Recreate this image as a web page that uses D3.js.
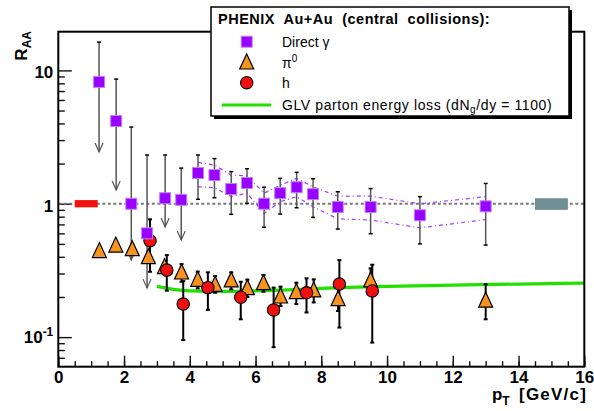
<!DOCTYPE html>
<html><head><meta charset="utf-8">
<script src="https://cdn.jsdelivr.net/npm/d3@7"></script>
<style>
body{margin:0;background:#fff}
svg{display:block;font-family:"Liberation Sans",Arial,Helvetica,sans-serif}
</style>
</head><body>
<svg id="c" width="594" height="411"></svg>
<script>
// ---- data ----
const gammaPt  = [1.24,1.76,2.22,2.70,3.25,3.74,4.25,4.75,5.26,5.74,6.26,6.75,7.25,7.75,8.50,9.50,11.0,13.0];
const gammaVal = [8.2,4.17,1.0,0.60,1.10,1.07,1.70,1.64,1.29,1.43,1.0,1.20,1.33,1.18,0.945,0.945,0.82,0.956];
const gammaHi  = [16.3,8.6,3.76,2.32,2.32,1.85,2.32,2.18,1.74,1.83,1.33,1.55,1.72,1.54,1.23,1.30,1.13,1.42];
const gammaLo  = [2.44,1.27,0.378,0.233,0.669,0.534,1.08,1.11,0.833,1.007,0.666,0.837,0.933,0.79,0.646,0.596,0.50,0.49];
const gammaIsLimit = [true,true,true,true,true,true,false,false,false,false,false,false,false,false,false,false,false,false];
const bandPt = [4.25,4.75,5.26,5.74,6.26,6.75,7.25,7.75,8.50,9.50,11.0,13.0];
const bandUp = [2.04,1.95,1.64,1.62,1.20,1.38,1.55,1.34,1.14,1.14,1.0,1.13];
const bandLo = [1.34,1.32,1.13,1.20,0.847,1.035,1.13,0.95,0.77,0.755,0.66,0.76];

const piPt  = [1.25,1.75,2.25,2.74,3.23,3.75,4.24,4.77,5.26,5.75,6.24,6.76,7.24,7.77,8.51,9.50,13.0];
const piVal = [0.44,0.484,0.455,0.396,0.334,0.304,0.268,0.246,0.265,0.232,0.253,0.201,0.217,0.223,0.192,0.265,0.187];
const piHi  = [0.46,0.51,0.49,0.43,0.36,0.353,0.31,0.287,0.306,0.27,0.292,0.239,0.256,0.271,0.23,0.328,0.249];
const piLo  = [0.42,0.46,0.42,0.36,0.30,0.26,0.232,0.215,0.228,0.20,0.219,0.171,0.177,0.182,0.157,0.21,0.136];

const hPt  = [2.79,3.30,3.80,4.55,5.55,6.55,7.55,8.55,9.55];
const hVal = [0.528,0.318,0.177,0.235,0.199,0.16,0.215,0.25,0.222];
const hHi  = [0.764,0.412,0.263,0.306,0.26,0.235,0.276,0.378,0.349];
const hLo  = [0.309,0.223,0.095,0.16,0.136,0.084,0.153,0.118,0.091];

const glvPt  = [3.0,3.5,4.0,5.0,6.0,7.0,8.0,10.0,12.0,14.0,16.0];
const glvVal = [0.24,0.228,0.222,0.22,0.222,0.226,0.232,0.24,0.245,0.25,0.254];

const normRed  = {x0:0.5, x1:1.2, lo:0.94, hi:1.065};
const normGrey = {x0:14.5, x1:15.5, lo:0.9, hi:1.1};

const xMajor = [0,2,4,6,8,10,12,14,16];
const yMajor = [0.1,1,10];
const yMinor = [0.07,0.08,0.09,0.2,0.3,0.4,0.5,0.6,0.7,0.8,0.9,2,3,4,5,6,7,8,9];

const NB = "\u00a0";
const legendTitle = `PHENIX${NB} Au+Au${NB} (central${NB} collisions):`;
const legendLabels = ["Direct \u03b3","\u03c0","h","GLV parton energy loss (dN"];

// ---- drawing ----
const svg = d3.select("#c");
svg.append("rect").attr("width",594).attr("height",411).attr("fill","#fff");
const x = d3.scaleLinear().domain([0,16]).range([58.3,584.3]);
const y = d3.scaleLog().domain([0.06,19.5]).range([366.7,31.7]);
const [X0,X1] = x.range(), [Y0,Y1] = y.range();

// axes ticks
const gxMin = svg.append("g").attr("transform",`translate(0,${Y0})`)
  .call(d3.axisBottom(x).tickValues(d3.range(0,16.01,0.5)).tickSize(-5.5).tickFormat(""));
const gxMaj = svg.append("g").attr("transform",`translate(0,${Y0})`)
  .call(d3.axisBottom(x).tickValues(xMajor).tickSize(-11).tickPadding(4).tickFormat(d3.format("d")));
const gyMin = svg.append("g").attr("transform",`translate(${X0},0)`)
  .call(d3.axisLeft(y).tickValues(yMinor).tickSize(-6.5).tickFormat(""));
const gyMaj = svg.append("g").attr("transform",`translate(${X0},0)`)
  .call(d3.axisLeft(y).tickValues(yMajor).tickSize(-13.5).tickFormat(""));
[gxMin,gxMaj,gyMin,gyMaj].forEach(g=>{
  g.select(".domain").remove();
  g.selectAll(".tick line").attr("stroke","#111").attr("stroke-width",1.4);
});
gxMaj.attr("font-family",null).attr("font-size",null);
gxMaj.selectAll("text").attr("font-size",17).attr("font-weight","bold").attr("fill","#000");

// y labels
const yl = svg.append("g").attr("font-size",17).attr("font-weight","bold").attr("text-anchor","end");
yMajor.forEach(v=>{
  const t = yl.append("text").attr("x",X0-5).attr("y",y(v)+(v<1?6:8));
  if(v===0.1){ t.append("tspan").text("10"); t.append("tspan").attr("font-size",12).attr("dy",-7).text("-1"); }
  else t.text(d3.format("d")(v));
});

// reference line at 1
svg.append("line").attr("x1",X0).attr("x2",X1).attr("y1",y(1)).attr("y2",y(1))
  .attr("stroke","#777").attr("stroke-width",2).attr("stroke-dasharray","3,2.5");

// normalization boxes
[[normRed,"#f01010"],[normGrey,"#6f8f94"]].forEach(([b,c])=>{
  svg.append("rect").attr("x",x(b.x0)).attr("width",x(b.x1)-x(b.x0))
    .attr("y",y(b.hi)).attr("height",y(b.lo)-y(b.hi)).attr("fill",c);
});

// systematic band lines for direct gamma
const ln = d3.line().x((d,i)=>x(bandPt[i])).y(d=>y(d));
[bandUp,bandLo].forEach(arr=>{
  svg.append("path").attr("d",ln(arr)).attr("fill","none").attr("stroke","#a040ff")
    .attr("stroke-width",1.2).attr("stroke-dasharray","4,3,1,3");
});

// GLV curve
svg.append("path").attr("d",d3.line().curve(d3.curveMonotoneX).x((d,i)=>x(glvPt[i])).y(d=>y(d))(glvVal))
  .attr("fill","none").attr("stroke","#22e000").attr("stroke-width",3.2);

// error bars
function bars(pts,hi,lo,color,w,lim){
  const g = svg.append("g").attr("stroke",color).attr("stroke-width",w).attr("fill","none");
  pts.forEach((p,i)=>{
    const cx = x(p), yt = y(hi[i]), yb = y(lo[i]);
    g.append("line").attr("x1",cx).attr("x2",cx).attr("y1",yt).attr("y2",yb);
    g.append("line").attr("x1",cx-2).attr("x2",cx+2).attr("y1",yt).attr("y2",yt).attr("stroke","#000");
    if(lim && lim[i]){
      g.append("path").attr("d",`M${cx-4},${yb-9}L${cx},${yb}L${cx+4},${yb-9}`).attr("stroke-width",1.2);
    } else {
      g.append("line").attr("x1",cx-2).attr("x2",cx+2).attr("y1",yb).attr("y2",yb).attr("stroke","#000");
    }
  });
}
bars(gammaPt,gammaHi,gammaLo,"#555",1.5,gammaIsLimit);
bars(piPt,piHi,piLo,"#000",2,null);
bars(hPt,hHi,hLo,"#000",2,null);

// markers
const tri = (cx,cy,s)=>`M${cx},${cy-s*0.62}L${cx+s/2},${cy+s*0.45}L${cx-s/2},${cy+s*0.45}Z`;
function square(g,cx,cy){ g.append("rect").attr("x",cx-5.5).attr("y",cy-5.5).attr("width",11).attr("height",11)
  .attr("fill","#9900ff").attr("stroke","#c080ff").attr("stroke-width",1); }
function triangle(g,cx,cy){ g.append("path").attr("d",tri(cx,cy,14)).attr("fill","#f7931e").attr("stroke","#000").attr("stroke-width",1.2); }
function circle(g,cx,cy){ g.append("circle").attr("cx",cx).attr("cy",cy).attr("r",6.2).attr("fill","#f01010").attr("stroke","#000").attr("stroke-width",1.1); }

const gm = svg.append("g");
piPt.forEach((p,i)=>triangle(gm,x(p),y(piVal[i])));
hPt.forEach((p,i)=>circle(gm,x(p),y(hVal[i])));
gammaPt.forEach((p,i)=>square(gm,x(p),y(gammaVal[i])));

// frame
svg.append("rect").attr("x",X0).attr("y",Y1).attr("width",X1-X0).attr("height",Y0-Y1)
  .attr("fill","none").attr("stroke","#000").attr("stroke-width",2);

// axis titles
const xt = svg.append("text").attr("x",587).attr("y",400).attr("text-anchor","end")
  .attr("font-size",17).attr("font-weight","bold");
xt.append("tspan").text("p");
xt.append("tspan").attr("font-size",12).attr("dy",5).text("T");
xt.append("tspan").attr("dy",-5).text(`${NB}${NB}`);
xt.append("tspan").attr("letter-spacing",1.2).text("[GeV/c]");

const ytl = svg.append("text").attr("transform","translate(27,31) rotate(-90)").attr("text-anchor","end")
  .attr("font-size",17).attr("font-weight","bold");
ytl.append("tspan").text("R");
ytl.append("tspan").attr("font-size",12).attr("dy",4).text("AA");

// legend
const L = {x:211,y:7,w:358,h:109};
svg.append("rect").attr("x",L.x+3).attr("y",L.y+3).attr("width",L.w).attr("height",L.h).attr("fill","#000");
svg.append("rect").attr("x",L.x).attr("y",L.y).attr("width",L.w).attr("height",L.h)
  .attr("fill","#fff").attr("stroke","#000").attr("stroke-width",1.5);
svg.append("text").attr("x",218).attr("y",24).attr("font-size",14.5).attr("font-weight","bold")
  .attr("letter-spacing",0.5).text(legendTitle);
const lg = svg.append("g").attr("font-size",14);
const rowY = [41.7,62.7,82.7,105];
square(lg,246.7,rowY[0]);
triangle(lg,246.7,rowY[1]);
circle(lg,246.7,rowY[2]);
lg.append("line").attr("x1",221.7).attr("x2",271).attr("y1",rowY[3]).attr("y2",rowY[3])
  .attr("stroke","#22e000").attr("stroke-width",3.2);
lg.append("text").attr("x",282).attr("y",46.5).text(legendLabels[0]);
const tp = lg.append("text").attr("x",282).attr("y",67.5);
tp.append("tspan").text(legendLabels[1]);
tp.append("tspan").attr("font-size",10).attr("dy",-6).text("0");
lg.append("text").attr("x",282).attr("y",88).text(legendLabels[2]);
const tg = lg.append("text").attr("x",282).attr("y",109.5).attr("letter-spacing",0.6);
tg.append("tspan").text(legendLabels[3]);
tg.append("tspan").attr("font-size",10).attr("dy",3).text("g");
tg.append("tspan").attr("dy",-3).text("/dy = 1100)");
</script>
</body></html>
